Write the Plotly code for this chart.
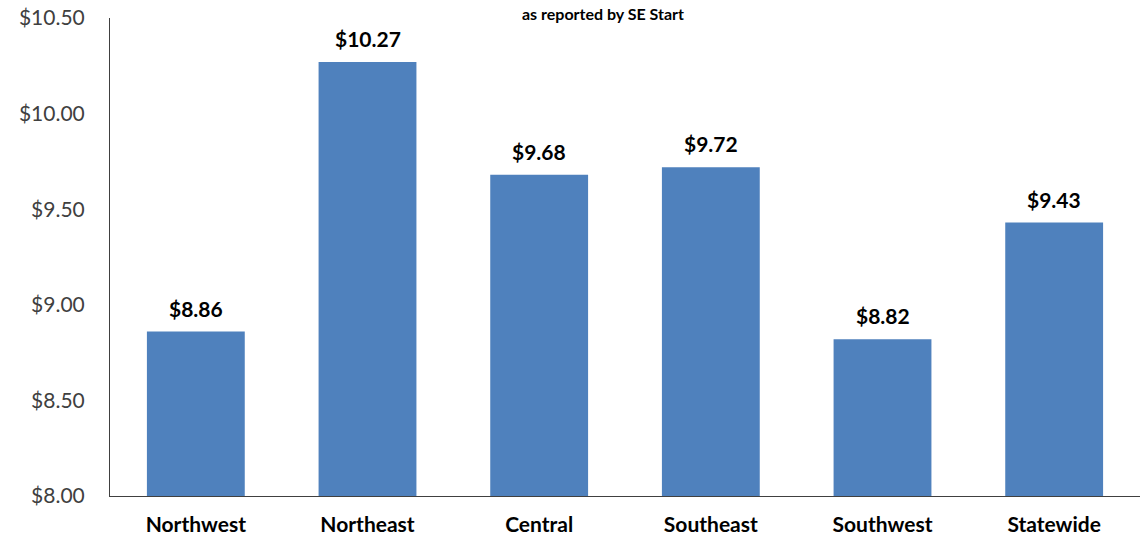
import plotly.graph_objects as go

regions = ["Northwest", "Northeast", "Central", "Southeast", "Southwest", "Statewide"]
wages = [8.86, 10.27, 9.68, 9.72, 8.82, 9.43]
tick_vals = [8.0, 8.5, 9.0, 9.5, 10.0, 10.5]
tick_text = ["$8.00", "$8.50", "$9.00", "$9.50", "$10.00", "$10.50"]
title_line = "as reported by SE Start"

FONT = "Lato"

fig = go.Figure()
fig.add_trace(go.Bar(
    x=regions, y=wages, marker=dict(color="#4F81BD", line=dict(width=0)),
    hoverinfo="skip",
))
for r, w in zip(regions, wages):
    fig.add_annotation(x=r, y=w, text=f"<b>${w:.2f}</b>", showarrow=False,
                       yanchor="bottom", yshift=9,
                       font=dict(family=FONT, size=21, color="#000000"))
fig.add_annotation(xref="paper", yref="paper", x=0.479, y=1, xanchor="center",
                   yanchor="top", yshift=16, text=f"<b>{title_line}</b>",
                   showarrow=False, font=dict(family=FONT, size=16, color="#000000"))

fig.update_layout(
    width=1146, height=541,
    margin=dict(l=110, r=6, t=18, b=45, autoexpand=False),
    paper_bgcolor="white", plot_bgcolor="white",
    bargap=0.43, showlegend=False,
    font=dict(family=FONT),
)
fig.update_yaxes(range=[8, 10.5], tickvals=tick_vals, ticktext=tick_text,
                 showgrid=False, zeroline=False, showline=True, linecolor="#404040",
                 linewidth=1, ticks="", automargin=False,
                 tickfont=dict(family=FONT, size=21, color="#404040"),
                 ticklabelstandoff=20)
fig.update_xaxes(showgrid=False, showline=True, linecolor="#404040", linewidth=1, ticks="",
                 automargin=False,
                 tickfont=dict(family=FONT, size=21, color="#000000"),
                 tickprefix="<b>", ticksuffix="</b>", ticklabelstandoff=10)

fig.write_html("out.html", config={"displayModeBar": False},
               post_script="document.body.style.margin='0';document.body.style.overflow='hidden';")
